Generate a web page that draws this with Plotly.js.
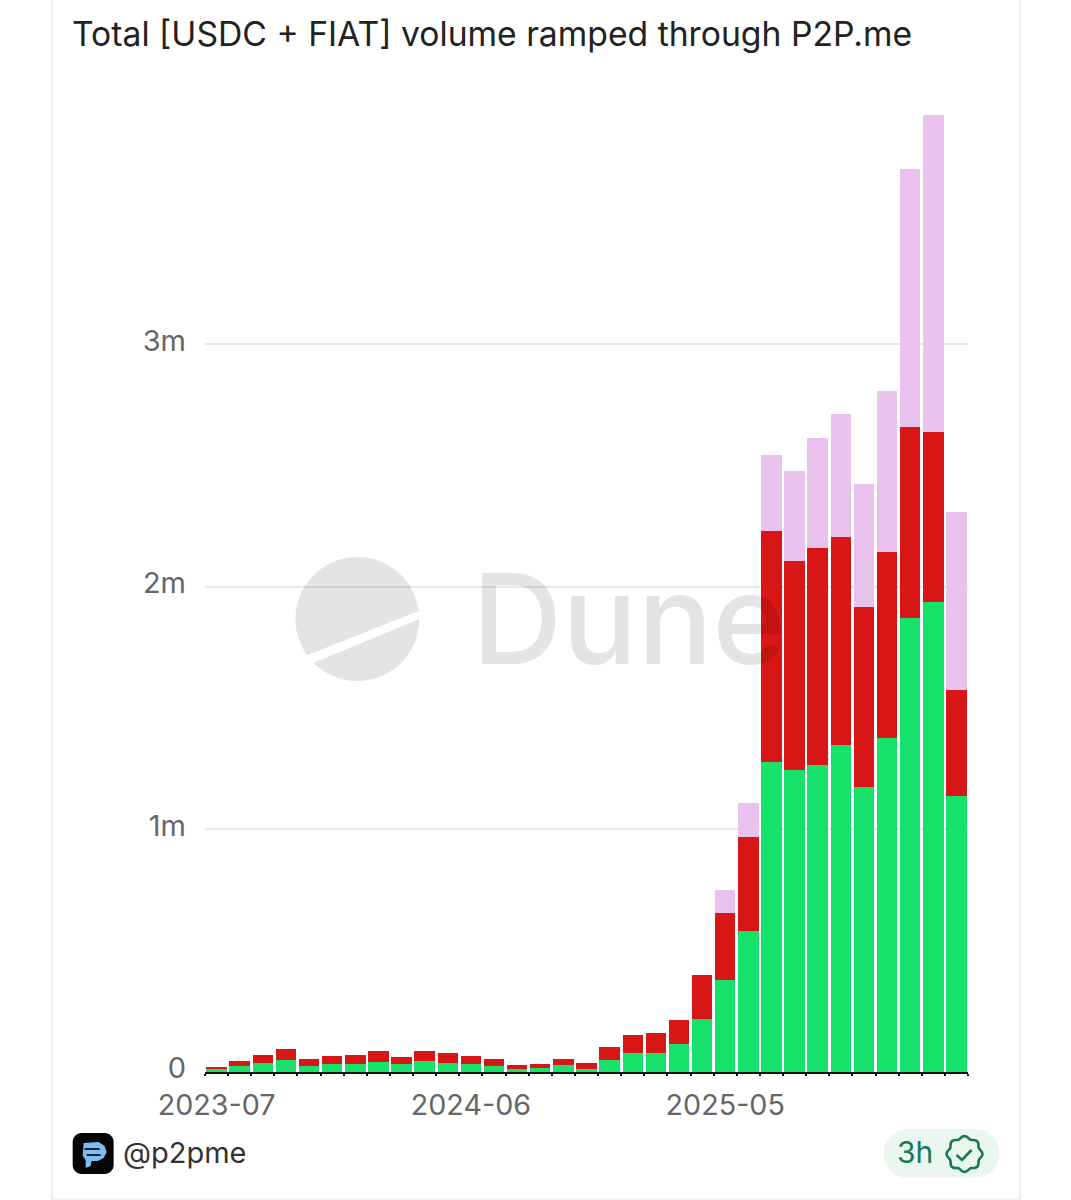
<!DOCTYPE html>
<html>
<head>
<meta charset="utf-8">
<script src="https://cdn.plot.ly/plotly-3.0.1.min.js"></script>
<style>html,body{margin:0;padding:0;background:#fff}</style>
</head>
<body>
<div id="chart" style="width:1071px;height:1200px"></div>
<script>
const months = ["2023-07","2023-08","2023-09","2023-10","2023-11","2023-12","2024-01","2024-02","2024-03","2024-04","2024-05","2024-06","2024-07","2024-08","2024-09","2024-10","2024-11","2024-12","2025-01","2025-02","2025-03","2025-04","2025-05","2025-06","2025-07","2025-08","2025-09","2025-10","2025-11","2025-12","2026-01","2026-02","2026-03"];
const labelledMonths = ["2023-07","2024-06","2025-05"];
const greenValues = [11000,25000,37000,48000,26000,32000,33000,43000,32000,45000,37000,34000,26000,14000,16000,30000,12000,49000,80000,80000,114000,217000,379000,583000,1278000,1245000,1266000,1348000,1175000,1377000,1872000,1938000,1138000];
const redValues = [11000,22000,34000,46000,26000,34000,36000,44000,30000,40000,43000,32000,28000,14000,16000,22000,26000,55000,71000,82000,100000,182000,278000,387000,953000,862000,895000,858000,743000,767000,788000,701000,437000];
const pinkValues = [0,0,0,0,0,0,0,0,0,0,0,0,0,0,0,0,0,0,0,0,0,0,92000,138000,313000,371000,453000,507000,507000,664000,1064000,1307000,734000];
const yTicks = [0,1000000,2000000,3000000];
const yTickLabels = ["0","1m","2m","3m"];

const W = 1071, H = 1200;
const mL = 204.5, mR = 102.5, mT = 100, mB = 128;
const px = x => (x - mL) / (W - mL - mR);
const py = y => (H - mB - y) / (H - mT - mB);
const deco = (path, fill, line, lw) => ({type:'path', xref:'paper', yref:'paper', layer:'above', path, fillcolor:fill, line:{color:line||'rgba(0,0,0,0)', width:lw||0}});
const P = (pts, close=true) => 'M' + pts.map(p => px(p[0]).toFixed(5)+','+py(p[1]).toFixed(5)).join(' L') + (close?' Z':'');
const arc = (cx,cy,r,a0,a1,n=48) => { const o=[]; for(let i=0;i<=n;i++){const a=(a0+(a1-a0)*i/n)*Math.PI/180; o.push([cx+r*Math.cos(a),cy+r*Math.sin(a)]);} return o; };
const rrect = (x0,y0,x1,y1,r) => [...arc(x1-r,y0+r,r,-90,0,8),...arc(x1-r,y1-r,r,0,90,8),...arc(x0+r,y1-r,r,90,180,8),...arc(x0+r,y0+r,r,180,270,8)];
const star = (cx,cy,n,r0,r1) => { const o=[]; for(let i=0;i<=n*8;i++){const a=i/(n*8)*2*Math.PI; const r=r0+(r1-r0)*(0.5+0.5*Math.cos(n*a)); o.push([cx+r*Math.cos(a),cy+r*Math.sin(a)]);} return o; };

const wm = 'rgba(0,0,0,0.105)';
const edge = (x0,y0,x1,y1,w) => ({type:'line',xref:'paper',yref:'paper',x0:px(x0),x1:px(x1),y0:py(y0),y1:py(y1),line:{color:'#efefef',width:w},layer:'below'});
const shapes = [
  edge(51.5,0,51.5,1200,2),
  edge(1020.5,0,1020.5,1200,2),
  edge(51,1199,1020,1199,1.5),
  deco(P(arc(357,619,62,144.2,352.5)), wm),
  deco(P(arc(357,619,62,0,135)), wm),
  deco(P(rrect(72,1133,113,1174,9)), '#050505'),
  deco(P([[83,1143],[98,1142],[104,1146],[106,1152],[103,1158],[97,1161],[91,1161],[90,1166],[85,1168],[85,1160],[82,1156]]), '#7fbdf0'),
  deco(P([[84,1149],[99,1149]],false), 'rgba(0,0,0,0)', '#0b2136', 2),
  deco(P([[86,1155],[100,1155]],false), 'rgba(0,0,0,0)', '#0b2136', 2),
  deco(P(rrect(884,1129,1000,1178,24.5)), '#e9f7ef'),
  deco(P(star(965,1154,8,15.5,18)), 'rgba(0,0,0,0)', '#17785a', 2.6),
  deco(P([[957,1155],[962.5,1160],[972,1150]],false), 'rgba(0,0,0,0)', '#17785a', 2.6)
];

const annotations = [
  {text:'Dune', xref:'paper', yref:'paper', x:px(470), y:py(619), xanchor:'left', yanchor:'middle', showarrow:false, font:{family:'Inter', size:125, weight:500, color:wm}},
  {text:'@p2pme', xref:'paper', yref:'paper', x:px(120), y:py(1152), xanchor:'left', yanchor:'middle', showarrow:false, font:{family:'Inter', size:29, color:'#333'}},
  {text:'3h', xref:'paper', yref:'paper', x:px(895), y:py(1152), xanchor:'left', yanchor:'middle', showarrow:false, font:{family:'Inter', size:30, color:'#17785a'}}
];

const bar = (name, y, color) => ({type:'bar', name, x:months, y, marker:{color, line:{width:0}}});
const traces = [
  bar('USDC', greenValues, '#16e16b'),
  bar('FIAT', redValues, '#d91616'),
  bar('Other', pinkValues, '#eac2ee')
];

const layout = {
  width:W, height:H,
  paper_bgcolor:'#fff', plot_bgcolor:'#fff',
  barmode:'stack', bargap:0.115, showlegend:false,
  margin:{l:mL, r:mR, t:mT, b:mB, pad:0},
  font:{family:'Inter', color:'#666'},
  title:{text:'Total [USDC + FIAT] volume ramped through P2P.me', x:72/W, xanchor:'left', xref:'container', y:1-34/H, yanchor:'middle', yref:'container', font:{family:'Inter', size:33.7, color:'#222'}},
  xaxis:{
    type:'category', range:[-0.5,32.5], tickmode:'array', tickvals:months,
    ticktext:months.map(m => labelledMonths.includes(m) ? m : ''),
    tickson:'boundaries', ticks:'outside', ticklen:2, tickwidth:2, tickcolor:'#111',
    showline:true, linecolor:'#111', linewidth:1.5, showgrid:false, zeroline:false,
    tickfont:{family:'Inter', size:28.7, color:'#666'}, tickangle:0, automargin:false, ticklabelstandoff:7
  },
  yaxis:{
    range:[0,4008000], tickmode:'array', tickvals:yTicks, ticktext:yTickLabels,
    showgrid:true, gridcolor:'#e9e9e9', gridwidth:2, zeroline:false, showline:false, ticks:'',
    tickfont:{family:'Inter', size:29, color:'#666'}, ticklabelstandoff:18, ticklabelshift:-4, automargin:false
  },
  shapes, annotations
};
Plotly.newPlot('chart', traces, layout, {displayModeBar:false, responsive:false});
</script>
</body>
</html>
